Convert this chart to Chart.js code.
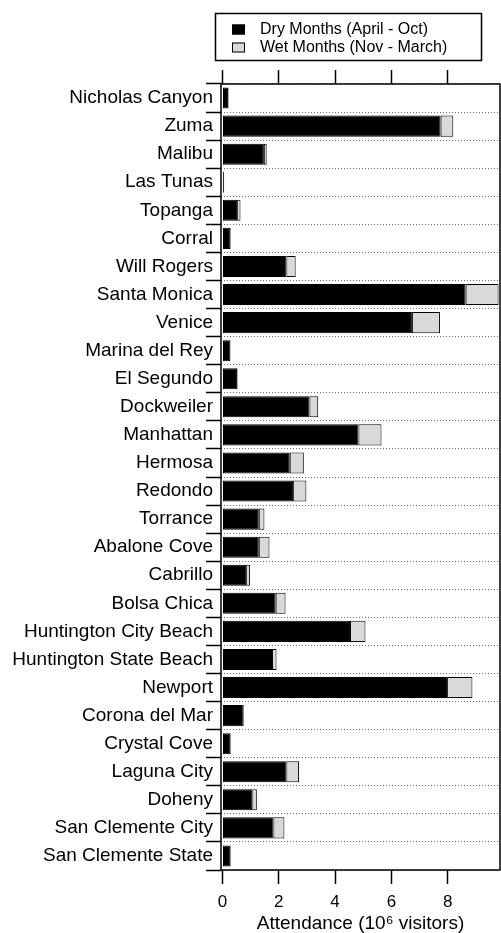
<!DOCTYPE html>
<html>
<head>
<meta charset="utf-8">
<title>Beach attendance</title>
<script src="https://cdn.jsdelivr.net/npm/chart.js@4/dist/chart.umd.min.js"></script>
<style>
  body { margin: 0; background: #fff; }
  canvas { display: block; }
</style>
</head>
<body>
<canvas id="myChart" width="501" height="933"></canvas>
<script>
/* DATA */
var beaches = [
    'Nicholas Canyon', 'Zuma', 'Malibu', 'Las Tunas', 'Topanga', 'Corral',
    'Will Rogers', 'Santa Monica', 'Venice', 'Marina del Rey', 'El Segundo',
    'Dockweiler', 'Manhattan', 'Hermosa', 'Redondo', 'Torrance', 'Abalone Cove',
    'Cabrillo', 'Bolsa Chica', 'Huntington City Beach', 'Huntington State Beach',
    'Newport', 'Corona del Mar', 'Crystal Cove', 'Laguna City', 'Doheny',
    'San Clemente City', 'San Clemente State'
];
// millions of visitors
var dryMonths = [
    0.20, 7.75, 1.47, 0.05, 0.52, 0.28,
    2.27, 8.64, 6.73, 0.28, 0.52,
    3.09, 4.83, 2.39, 2.51, 1.29, 1.29,
    0.84, 1.89, 4.53, 1.76,
    7.98, 0.75, 0.29, 2.27, 1.06,
    1.81, 0.29
];
var wetMonths = [
    0.02, 0.45, 0.10, 0.01, 0.12, 0.02,
    0.33, 1.17, 1.00, 0.01, 0.02,
    0.31, 0.82, 0.50, 0.47, 0.20, 0.38,
    0.14, 0.35, 0.55, 0.16,
    0.90, 0.02, 0.01, 0.45, 0.16,
    0.39, 0.01
];
var xTicks = [0, 2, 4, 6, 8];
var seriesLabels = ['Dry Months (April - Oct)', 'Wet Months (Nov - March)'];
/* DATA */

var FONT = "'Liberation Sans', Arial, sans-serif";

// legend box drawn above the plot, plus the frame around the chart area
var boxPlugin = {
    id: 'boxLegend',
    afterDraw: function(chart) {
        var ctx = chart.ctx;
        var a = chart.chartArea;
        ctx.save();
        ctx.strokeStyle = '#000';
        ctx.lineWidth = 1.5;
        ctx.strokeRect(a.left, a.top, a.right - a.left, a.bottom - a.top);

        ctx.strokeRect(215.5, 13.5, 266, 47);
        ctx.font = '16px ' + FONT;
        ctx.textBaseline = 'middle';
        ctx.textAlign = 'left';
        chart.data.datasets.forEach(function(ds, i) {
            var y = 29.5 + i * 18;
            ctx.fillStyle = ds.backgroundColor;
            ctx.fillRect(232, y - 5, 13, 10);
            ctx.lineWidth = 1;
            ctx.strokeRect(232.5, y - 4.5, 12, 9);
            ctx.fillStyle = '#000';
            ctx.fillText(ds.label, 260, y);
        });
        ctx.restore();
    }
};

var config = {
    type: 'bar',
    data: {
        labels: beaches,
        datasets: [
            { label: seriesLabels[0], data: dryMonths, backgroundColor: '#000000' },
            { label: seriesLabels[1], data: wetMonths, backgroundColor: '#d9d9d9' }
        ]
    },
    options: {
        indexAxis: 'y',
        responsive: false,
        animation: false,
        layout: { padding: { left: 0, right: 1, top: 0, bottom: 0 } },
        datasets: {
            bar: {
                borderColor: '#000',
                borderWidth: 1,
                borderSkipped: false,
                categoryPercentage: 0.75,
                barPercentage: 1
            }
        },
        plugins: {
            legend: { display: false },
            tooltip: { enabled: false }
        },
        scales: {
            y: {
                stacked: true,
                afterFit: function(scale) { scale.width = 221; },
                grid: {
                    offset: true,
                    color: '#6a6a6a',
                    lineWidth: 1,
                    tickLength: 15,
                    tickColor: '#000',
                    tickWidth: 1.5,
                    tickBorderDash: []
                },
                border: { display: false, dash: [1, 2] },
                ticks: {
                    color: '#000',
                    padding: -7,
                    font: { family: FONT, size: 19 }
                }
            },
            x: {
                stacked: true,
                position: 'bottom',
                min: -0.053,
                max: 9.86,
                afterFit: function(scale) { scale.height = 63; },
                afterBuildTicks: function(scale) {
                    scale.ticks = xTicks.map(function(v) { return { value: v }; });
                },
                grid: {
                    drawOnChartArea: false,
                    tickLength: 14,
                    tickColor: '#000',
                    tickWidth: 1.5
                },
                border: { display: false },
                ticks: {
                    color: '#000',
                    padding: 8,
                    font: { family: FONT, size: 17 }
                },
                title: {
                    display: true,
                    text: 'Attendance (10\u2076 visitors)',
                    color: '#000',
                    padding: { top: 0, bottom: -2 },
                    font: { family: FONT, size: 19 }
                }
            },
            x2: {
                type: 'linear',
                position: 'top',
                min: -0.053,
                max: 9.86,
                afterFit: function(scale) { scale.height = 84; },
                afterBuildTicks: function(scale) {
                    scale.ticks = xTicks.map(function(v) { return { value: v }; });
                },
                grid: {
                    drawOnChartArea: false,
                    tickLength: 14,
                    tickColor: '#000',
                    tickWidth: 1.5
                },
                border: { display: false },
                ticks: { display: false }
            }
        }
    },
    plugins: [boxPlugin]
};

window.onload = function() {
    var ctx = document.getElementById('myChart').getContext('2d');
    window.myChart = new Chart(ctx, config);
};
</script>
</body>
</html>
